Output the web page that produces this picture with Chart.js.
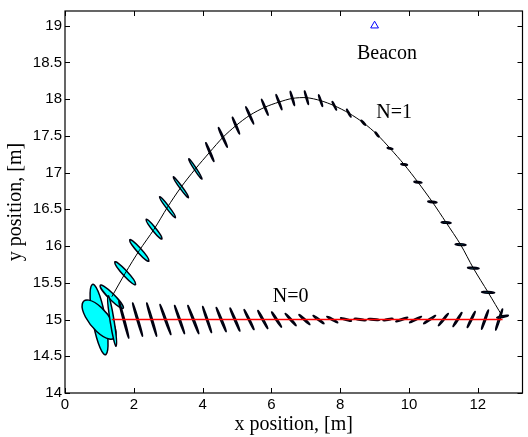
<!DOCTYPE html>
<html>
<head>
<meta charset="utf-8">
<script src="https://cdn.jsdelivr.net/npm/chart.js@4.4.0/dist/chart.umd.min.js"></script>
<style>
    html, body { margin: 0; padding: 0; background: #fff; }
    #wrap { width: 528px; height: 437px; }
</style>
</head>
<body>
<div id="wrap"><canvas id="chart1" width="528" height="437"></canvas></div>
<script>
// N=1 estimate track (ellipse centres, also the line)
const n1X = [1.36, 1.75, 2.16, 2.59, 2.98, 3.37, 3.79, 4.21, 4.59, 4.97, 5.37, 5.81, 6.22, 6.61, 7.02,
             7.43, 7.83, 8.25, 8.67, 9.07, 9.45, 9.86, 10.26, 10.68, 11.08, 11.50, 11.87, 12.30, 12.72];
const n1Y = [15.31, 15.63, 15.94, 16.23, 16.53, 16.80, 17.05, 17.28, 17.48, 17.64, 17.78, 17.89, 17.96, 18.01, 18.02,
             17.98, 17.91, 17.81, 17.68, 17.52, 17.33, 17.11, 16.87, 16.60, 16.32, 16.02, 15.70, 15.37, 15.04];
// error ellipses N=1: semi axes [m] and tilt [deg]
const n1A = [0.370, 0.339, 0.314, 0.266, 0.271, 0.262, 0.236, 0.175, 0.186, 0.155, 0.164, 0.145, 0.134, 0.114, 0.108,
             0.098, 0.085, 0.083, 0.074, 0.066, 0.083, 0.097, 0.116, 0.134, 0.145, 0.159, 0.169, 0.192, 0.170];
const n1B = [0.052, 0.045, 0.041, 0.035, 0.028, 0.025, 0.023, 0.017, 0.017, 0.016, 0.015, 0.015, 0.015, 0.017, 0.016,
             0.015, 0.014, 0.013, 0.012, 0.012, 0.010, 0.010, 0.010, 0.010, 0.011, 0.011, 0.011, 0.011, 0.011];
const n1Ang = [-24.3, -26.6, -27.2, -29.7, -31.3, -32.5, -35.4, -46.8, -45.5, -47.2, -45.1, -47.9, -49.8, -57, -57.7,
               -53.9, -42.7, -39.6, -25.8, -29, -6.2, -4, -3.4, -3, -2, -1.5, -2, -1.5, 5];

// N=0 ellipses
const n0X = [1.37, 1.71, 2.11, 2.52, 2.92, 3.33, 3.73, 4.13, 4.54, 4.94, 5.35, 5.75, 6.15, 6.56, 6.96,
             7.37, 7.77, 8.17, 8.58, 8.98, 9.39, 9.79, 10.19, 10.60, 11.00, 11.41, 11.81, 12.21, 12.62];
const n0Y = [14.98, 15, 15, 15, 15, 15, 15, 15, 15, 15, 15, 15, 15, 15, 15,
             15, 15, 15, 15, 15, 15, 15, 15, 15, 15, 15, 15, 15, 15];
const n0A = [0.361, 0.291, 0.268, 0.268, 0.259, 0.240, 0.249, 0.220, 0.219, 0.213, 0.199, 0.190, 0.177, 0.179, 0.173,
             0.168, 0.164, 0.160, 0.174, 0.173, 0.145, 0.175, 0.178, 0.182, 0.166, 0.161, 0.159, 0.165, 0.175];
const n0B = [0.055, 0.020, 0.020, 0.020, 0.019, 0.019, 0.019, 0.019, 0.019, 0.018, 0.017, 0.017, 0.016, 0.014, 0.013,
             0.013, 0.012, 0.011, 0.011, 0.011, 0.011, 0.011, 0.011, 0.012, 0.014, 0.016, 0.017, 0.019, 0.020];
const n0Ang = [-71.3, -60.2, -57.3, -57.3, -52.2, -52.9, -50.2, -53.8, -48.6, -47.4, -43.4, -40.4, -35.4, -27.3, -23.2,
               -19.0, -14.5, -7.3, -4.5, -2.3, 5.4, 9.0, 13.3, 17.5, 29.6, 36.3, 43.3, 52.1, 54.8];

// N=0 track (straight line)
const n0LineX = [1.36, 12.72];
const n0LineY = [15, 15];

// initial uncertainty
const startX = [0.99, 0.99];
const startY = [15.0, 15.0];
const startA = [0.516, 0.532];
const startB = [0.177, 0.177];
const startAng = [-66.7, -23.4];

const beaconX = [9];
const beaconY = [19];

const xTickVals = [0, 2, 4, 6, 8, 10, 12];
const yTickVals = [14, 14.5, 15, 15.5, 16, 16.5, 17, 17.5, 18, 18.5, 19];

const notes = [
    { x: 9.36, y: 18.62, text: 'Beacon' },
    { x: 9.57, y: 17.82, text: 'N=1' },
    { x: 6.56, y: 15.31, text: 'N=0' }
];

function pts(xs, ys) {
    return xs.map((x, i) => ({ x: x, y: ys[i] }));
}

function drawEllipses(chart, xs, ys, as, bs, angs) {
    const ctx = chart.ctx;
    const sx = chart.scales.x, sy = chart.scales.y;
    const kx = sx.getPixelForValue(1) - sx.getPixelForValue(0);
    const ky = sy.getPixelForValue(0) - sy.getPixelForValue(1);
    for (let i = 0; i < xs.length; i++) {
        ctx.save();
        ctx.translate(sx.getPixelForValue(xs[i]), sy.getPixelForValue(ys[i]));
        ctx.scale(kx, -ky);
        ctx.rotate(angs[i] * Math.PI / 180);
        ctx.beginPath();
        ctx.ellipse(0, 0, as[i], bs[i], 0, 0, Math.PI * 2);
        ctx.restore();
        ctx.fillStyle = '#00ffff';
        ctx.fill();
        ctx.strokeStyle = '#000010';
        ctx.lineWidth = 1.5;
        ctx.stroke();
    }
}

const ellipsePlugin = {
    id: 'ellipses',
    beforeDatasetsDraw(chart) {
        const ctx = chart.ctx;
        ctx.save();
        drawEllipses(chart, startX, startY, startA, startB, startAng);
        drawEllipses(chart, n1X, n1Y, n1A, n1B, n1Ang);
        drawEllipses(chart, n0X, n0Y, n0A, n0B, n0Ang);
        ctx.restore();
    }
};

// matlab style box with inward ticks, plus the text notes
const boxPlugin = {
    id: 'box',
    afterDraw(chart) {
        const ctx = chart.ctx;
        const a = chart.chartArea;
        const sx = chart.scales.x, sy = chart.scales.y;
        const tl = 5;
        ctx.save();
        ctx.strokeStyle = '#000';
        ctx.lineWidth = 1.2;
        ctx.strokeRect(a.left, a.top, a.right - a.left, a.bottom - a.top);
        ctx.lineWidth = 1;
        ctx.beginPath();
        xTickVals.forEach(v => {
            const px = Math.round(sx.getPixelForValue(v)) + 0.5;
            ctx.moveTo(px, a.bottom); ctx.lineTo(px, a.bottom - tl);
            ctx.moveTo(px, a.top); ctx.lineTo(px, a.top + tl);
        });
        yTickVals.forEach(v => {
            const py = Math.round(sy.getPixelForValue(v)) + 0.5;
            ctx.moveTo(a.left, py); ctx.lineTo(a.left + tl, py);
            ctx.moveTo(a.right, py); ctx.lineTo(a.right - tl, py);
        });
        ctx.stroke();

        ctx.fillStyle = '#000';
        ctx.font = '20px "Liberation Serif"';
        ctx.textAlign = 'center';
        ctx.textBaseline = 'middle';
        notes.forEach(n => {
            ctx.fillText(n.text, sx.getPixelForValue(n.x), sy.getPixelForValue(n.y));
        });
        ctx.restore();
    }
};

const ctx1 = document.getElementById('chart1').getContext('2d');
new Chart(ctx1, {
    type: 'scatter',
    data: {
        datasets: [
            {
                label: 'N=1',
                data: pts(n1X, n1Y),
                showLine: true,
                borderColor: '#000',
                borderWidth: 1,
                pointRadius: 0,
                tension: 0.3
            },
            {
                label: 'N=0',
                data: pts(n0LineX, n0LineY),
                showLine: true,
                borderColor: '#ff0000',
                borderWidth: 1.5,
                pointRadius: 0
            },
            {
                label: 'Beacon',
                data: pts(beaconX, beaconY),
                pointStyle: 'triangle',
                pointRadius: 4.5,
                borderColor: '#0000ff',
                backgroundColor: 'rgba(0,0,0,0)',
                borderWidth: 1
            }
        ]
    },
    options: {
        responsive: false,
        animation: false,
        layout: { padding: { top: 11, right: 2, left: 0, bottom: 0 } },
        plugins: {
            legend: { display: false },
            tooltip: { enabled: false }
        },
        scales: {
            x: {
                type: 'linear',
                min: 0,
                max: 13.3,
                afterBuildTicks: s => { s.ticks = xTickVals.map(v => ({ value: v })); },
                afterFit: s => { s.height = 44; s.paddingLeft = 0; s.paddingRight = 0; },
                grid: { display: false, drawTicks: false },
                border: { display: false },
                ticks: {
                    color: '#000',
                    padding: 3,
                    maxRotation: 0,
                    font: { family: 'Liberation Sans', size: 15 },
                    callback: v => String(v)
                },
                title: {
                    display: true,
                    text: 'x position, [m]',
                    color: '#000',
                    padding: { top: 0, bottom: 0 },
                    font: { family: 'Liberation Serif', size: 20 }
                }
            },
            y: {
                type: 'linear',
                min: 14,
                max: 19.2,
                afterBuildTicks: s => { s.ticks = yTickVals.map(v => ({ value: v })); },
                afterFit: s => { s.width = 65; s.paddingTop = 0; s.paddingBottom = 0; },
                grid: { display: false, drawTicks: false },
                border: { display: false },
                ticks: {
                    color: '#000',
                    padding: 3,
                    font: { family: 'Liberation Sans', size: 15 },
                    callback: v => String(v)
                },
                title: {
                    display: true,
                    text: 'y position, [m]',
                    color: '#000',
                    padding: { top: 4, bottom: 0 },
                    font: { family: 'Liberation Serif', size: 20 }
                }
            }
        }
    },
    plugins: [ellipsePlugin, boxPlugin]
});
</script>
</body>
</html>
